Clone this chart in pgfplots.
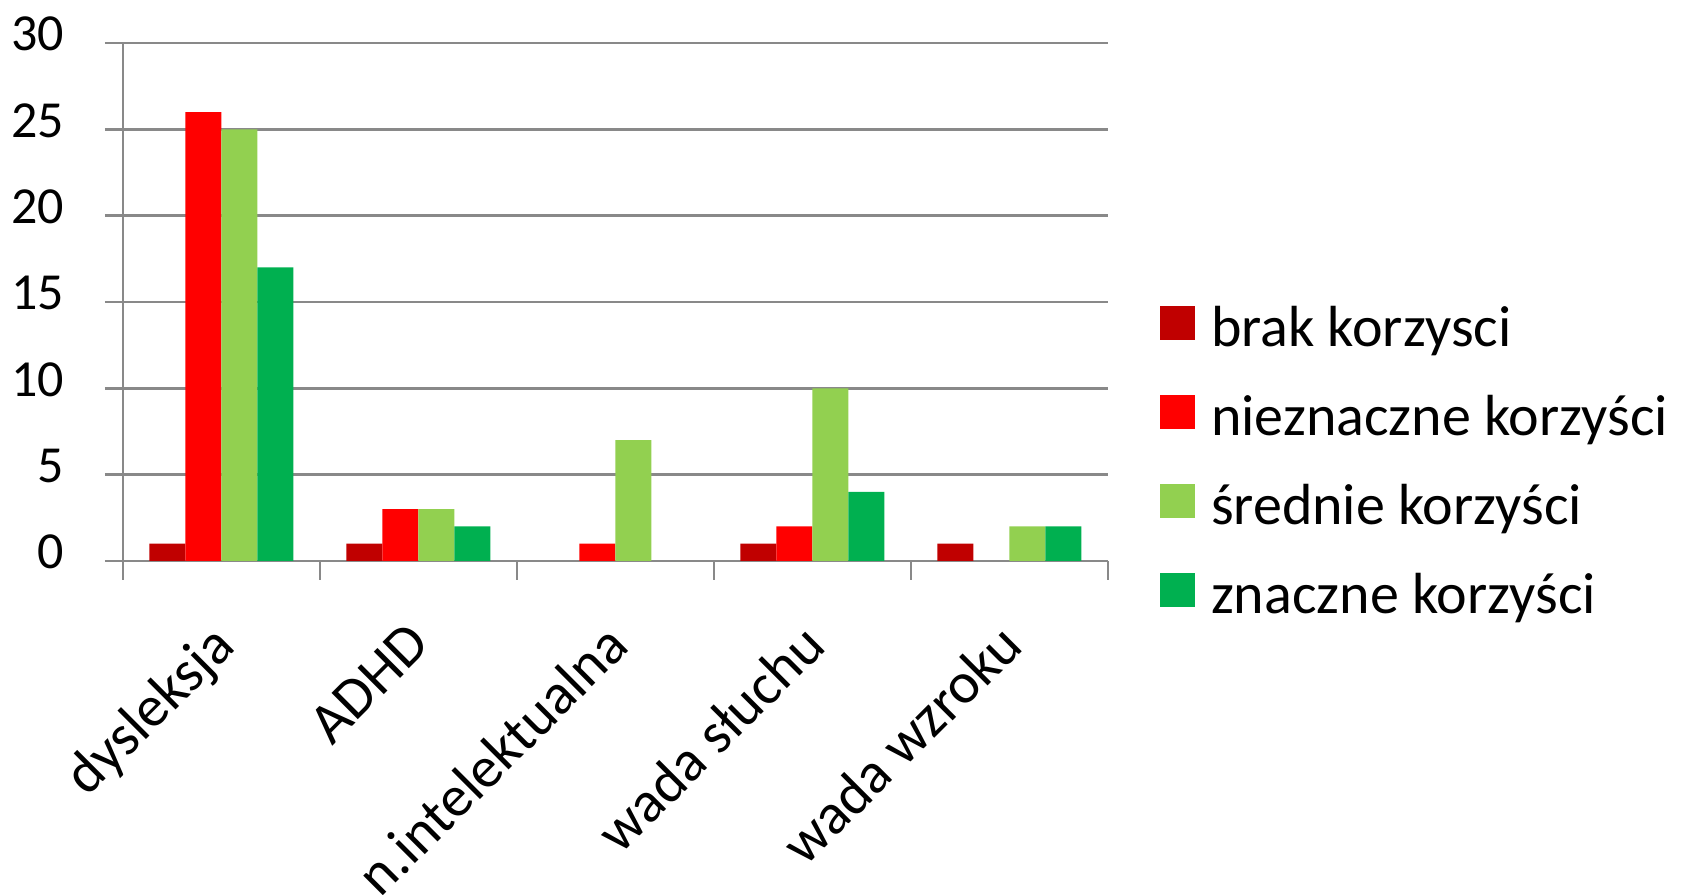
\documentclass[border=0pt]{standalone}
\usepackage{pgfplots}
\pgfplotsset{compat=1.18}
\usepackage{fontspec}
\setmainfont{Carlito}
\definecolor{c1}{HTML}{C00000}
\definecolor{c2}{HTML}{FF0000}
\definecolor{c3}{HTML}{92D050}
\definecolor{c4}{HTML}{00B050}
\definecolor{axgray}{HTML}{898989}
\begin{document}
\begin{tikzpicture}
\useasboundingbox (-30.75pt,-83.5pt) rectangle (389.5pt,140.25pt);
\begin{axis}[
  at={(0,0)}, anchor=south west,
  scale only axis, width=246.25pt, height=129.5pt,
  ybar=0pt, bar width=9pt,
  xmin=-0.5, xmax=4.5, ymin=0, ymax=30,
  axis x line*=bottom, axis y line*=left,
  axis line style={draw=axgray, line width=0.6pt},
  ytick={0,5,...,30},
  ymajorgrids, grid style={draw=axgray, line width=0.6pt},
  tick align=outside,
  major tick length=4.5pt, minor tick length=4.75pt,
  y tick style={draw=axgray, line width=0.6pt},
  xtick={0,1,2,3,4},
  xticklabels={dysleksja,ADHD,n.intelektualna,wada słuchu,wada wzroku},
  major x tick style={draw=none},
  minor xtick={-0.5,0.5,1.5,2.5,3.5,4.5},
  minor x tick style={draw=axgray, line width=0.6pt},
  /pgf/number format/assume math mode=true,
  yticklabel style={font=\fontsize{13}{15}\selectfont, anchor=east, inner sep=0pt, xshift=-10pt, yshift=2.25pt},
  xticklabel style={font=\fontsize{14.5}{17}\selectfont, inner sep=0pt, xshift=-3.25pt, yshift=-10pt, rotate=45, anchor=north east},
  legend style={draw=none, fill=none, inner sep=0pt, outer sep=0pt,
    at={(1.0528,0.492)}, anchor=north west,
    font=\fontsize{14.5}{17}\selectfont, row sep=9.25pt, column sep=4pt,
    nodes={inner sep=0pt, text height=10pt, text depth=3pt}},
  legend cell align=left,
  legend image code/.code={\fill[#1,draw=none] (0pt,-2pt) rectangle (8.75pt,6.5pt);},
]
% zero values (n.intelektualna: brak, znaczne; wada wzroku: nieznaczne) are left out
\addplot[fill=c1, draw=none] coordinates {(0,1) (1,1) (3,1) (4,1)};
\addplot[fill=c2, draw=none] coordinates {(0,26) (1,3) (2,1) (3,2)};
\addplot[fill=c3, draw=none] coordinates {(0,25) (1,3) (2,7) (3,10) (4,2)};
\addplot[fill=c4, draw=none] coordinates {(0,17) (1,2) (3,4) (4,2)};
\legend{brak korzysci, nieznaczne korzyści, średnie korzyści, znaczne korzyści}
\end{axis}
\end{tikzpicture}
\end{document}
